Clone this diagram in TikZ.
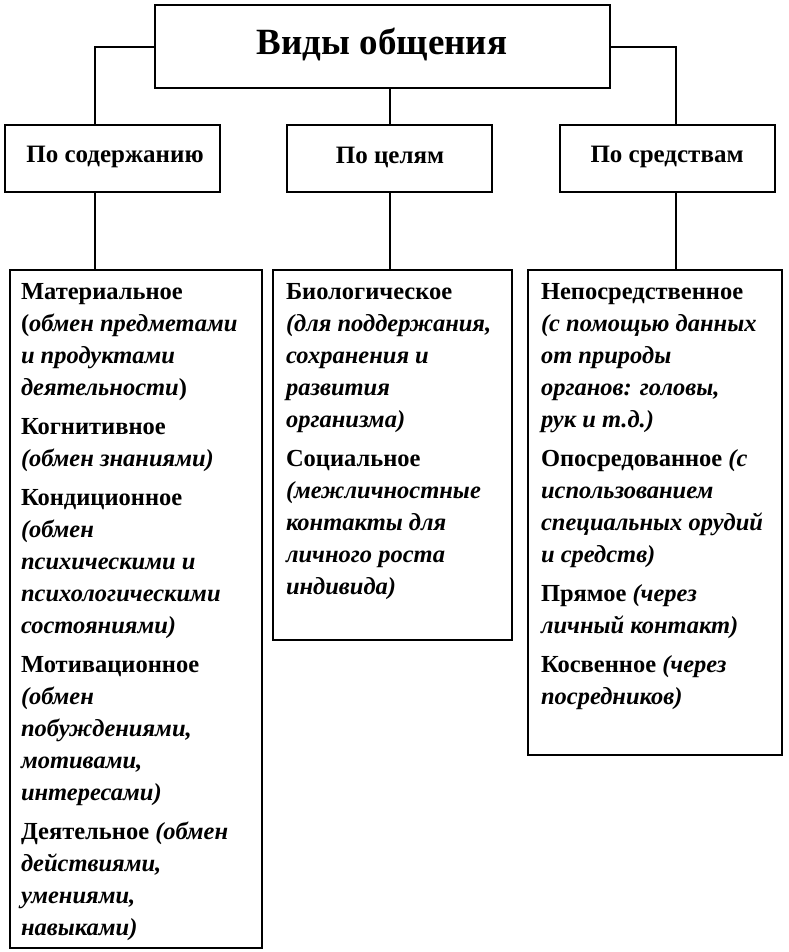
\documentclass[tikz,border=0pt]{standalone}
\usepackage{fontspec}
\setmainfont{Liberation Serif}
\begin{document}
\begin{tikzpicture}[x=1pt,y=-1pt,line width=2pt,
  bx/.style={draw,line width=2pt},
  hd/.style={font=\bfseries\fontsize{25}{28}\selectfont},
  txt/.style={anchor=north west,align=left,inner sep=0pt,font=\bfseries\fontsize{24.5}{32}\selectfont}]
\useasboundingbox (0,0) rectangle (788,952);
\draw[bx] (155,5) rectangle (610,88);
\node[font=\bfseries\fontsize{37}{40}\selectfont] (top) at (382,44) {Виды общения};
\coordinate (tl) at (155,47); \coordinate (tr) at (610,47);
\draw[bx] (5,125) rectangle (220,192);
\node[hd] (a) at (115,157) {По содержанию};
\draw[bx] (287,125) rectangle (492,192);
\node[hd] (b) at (390,157) {По целям};
\draw[bx] (560,125) rectangle (775,192);
\node[hd] (c) at (667,157) {По средствам};
\draw (tl) -- (95,47) -- (95,125);
\draw (tr) -- (676,47) -- (676,125);
\draw (390,88) -- (390,125);
\draw (95,192) -- (95,270);
\draw (390,192) -- (390,270);
\draw (676,192) -- (676,270);
\draw[bx] (10,270) rectangle (262,948);
\draw[bx] (273,270) rectangle (512,640);
\draw[bx] (528,270) rectangle (782,755);
\node[txt] (t1) at (20,282) {Материальное\\(\textit{обмен предметами}\\\textit{и продуктами}\\\textit{деятельности})\\[7pt]
Когнитивное\\\textit{(обмен знаниями)}\\[7pt]
Кондиционное\\\textit{(обмен}\\\textit{психическими и}\\\textit{психологическими}\\\textit{состояниями)}\\[7pt]
Мотивационное\\\textit{(обмен}\\\textit{побуждениями,}\\\textit{мотивами,}\\\textit{интересами)}\\[7pt]
Деятельное \textit{(обмен}\\\textit{действиями,}\\\textit{умениями,}\\\textit{навыками)}};
\node[txt] (t2) at (285,282) {Биологическое\\\textit{(для поддержания,}\\\textit{сохранения и}\\\textit{развития}\\\textit{организма)}\\[7pt]
Социальное\\\textit{(межличностные}\\\textit{контакты для}\\\textit{личного роста}\\\textit{индивида)}};
\node[txt] (t3) at (540,282) {Непосредственное\\\textit{(с помощью данных}\\\textit{от природы}\\\textit{органов: головы,}\\\textit{рук и т.д.)}\\[7pt]
Опосредованное \textit{(с}\\\textit{использованием}\\\textit{специальных орудий}\\\textit{и средств)}\\[7pt]
Прямое \textit{(через}\\\textit{личный контакт)}\\[7pt]
Косвенное \textit{(через}\\\textit{посредников)}};
\end{tikzpicture}
\end{document}
